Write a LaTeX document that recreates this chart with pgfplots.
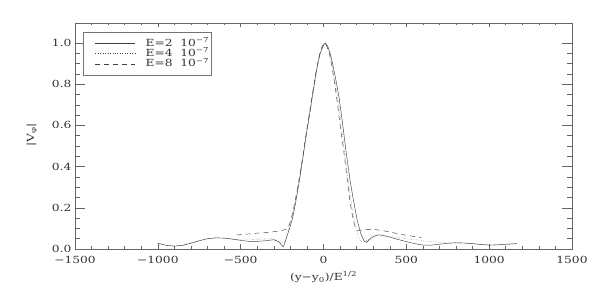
\documentclass[border=0pt]{standalone}
\usepackage{fontspec}
\setmainfont{DejaVu Serif}[FakeStretch=1.25]
\usepackage{pgfplots}
\pgfplotsset{compat=1.18}
\newcommand{\fsz}{\fontsize{9.8}{11}\selectfont}
\begin{document}
\begin{tikzpicture}[x=1pt,y=1pt]
\useasboundingbox (0,0) rectangle (595,297);
\begin{axis}[
  at={(75pt,48pt)}, anchor=south west,
  scale only axis, width=497pt, height=226pt,
  xmin=-1500, xmax=1500, ymin=0, ymax=1.097,
  axis line style={black!60, line width=0.5pt},
  every tick/.style={black!60, line width=0.5pt},
  tick align=inside,
  xtick={-1500,-1000,-500,0,500,1000,1500},
  xticklabels={−1500,−1000,−500,0,500,1000,1500},
  ytick={0,0.2,0.4,0.6,0.8,1.0},
  yticklabels={0.0,0.2,0.4,0.6,0.8,1.0},
  minor x tick num=4, minor y tick num=3,
  major tick length=10pt, minor tick length=5pt,
  x tick style={/pgfplots/major tick length=4.5pt, /pgfplots/minor tick length=2.5pt},
  tick label style={font=\fsz, black!80},
  xticklabel style={yshift=-4pt},
  xlabel={(y−y\textsubscript{0})/E\textsuperscript{1/2}},
  xlabel style={at={(axis description cs:0.5,-0.125)}, anchor=center, font=\fsz, black!80},
  ylabel={|V\textsubscript{φ}|},
  ylabel style={at={(axis description cs:-0.087,0.505)}, anchor=center, rotate=0, font=\fsz, black!80},
  legend style={at={(axis description cs:0.016,0.960)}, anchor=north west,
    draw=black!55, line width=0.4pt, font=\fsz, text=black!80,
    inner xsep=2pt, inner ysep=6pt, row sep=0pt,
    nodes={inner xsep=0pt, inner ysep=0.4pt, text height=7.5pt, text depth=2pt},
    /tikz/every odd column/.append style={column sep=10pt}},
  legend cell align=left,
  legend image code/.code={\path (0pt,0pt); \draw[#1] (10pt,0pt) -- (50pt,0pt);},
]
\addplot[black!75, line width=0.45pt] coordinates {
(-1000,0.028) (-950,0.018) (-900,0.014) (-850,0.018) (-800,0.028) (-750,0.040)
(-700,0.050) (-650,0.054) (-600,0.053) (-550,0.048) (-500,0.042) (-450,0.037)
(-400,0.037) (-350,0.040) (-300,0.045) (-270,0.035) (-243,0.010) (-225,0.050)
(-205,0.100) (-185,0.155) (-165,0.240) (-145,0.335) (-125,0.44) (-105,0.55)
(-85,0.65) (-70,0.73) (-50,0.83) (-35,0.90) (-20,0.95) (0,0.99) (10,1.0)
(25,0.985) (40,0.95) (55,0.90) (75,0.82) (95,0.73) (115,0.61) (135,0.48)
(160,0.335) (180,0.24) (204,0.138) (225,0.075) (245,0.038) (260,0.032)
(280,0.048) (300,0.060) (330,0.069) (360,0.066) (400,0.058) (450,0.046)
(500,0.036) (550,0.026) (600,0.019) (650,0.019) (700,0.023) (750,0.028)
(800,0.030) (850,0.029) (900,0.026) (950,0.022) (1000,0.019) (1050,0.020)
(1100,0.023) (1166,0.026)
};
\addlegendentry{E=2\ \ 10\textsuperscript{−7}}
\addplot[black!75, line width=0.45pt, dotted] coordinates {
(-1000,0.028) (-950,0.018) (-900,0.014) (-850,0.018) (-800,0.028) (-750,0.040)
(-700,0.050) (-650,0.054) (-600,0.053) (-550,0.049) (-500,0.046) (-450,0.046)
(-400,0.047) (-350,0.049) (-310,0.050) (-280,0.042) (-255,0.026) (-235,0.040)
(-215,0.085) (-195,0.14) (-175,0.21) (-155,0.29) (-135,0.385) (-115,0.49)
(-95,0.59) (-75,0.69) (-55,0.79) (-35,0.89) (-20,0.95) (0,0.99) (8,1.0)
(25,0.98) (40,0.94) (55,0.88) (75,0.79) (95,0.68) (115,0.55) (130,0.45)
(150,0.33) (170,0.21) (190,0.12) (210,0.060) (230,0.034) (250,0.036)
(280,0.052) (310,0.062) (340,0.065) (400,0.060) (450,0.055) (500,0.050)
(550,0.045) (600,0.040) (650,0.036) (700,0.033) (750,0.030) (800,0.030)
(850,0.029) (900,0.026) (950,0.022) (1000,0.019) (1050,0.020) (1100,0.023) (1166,0.026)
};
\addlegendentry{E=4\ \ 10\textsuperscript{−7}}
\addplot[black!75, line width=0.45pt, dash pattern=on 5pt off 4pt] coordinates {
(-524,0.068) (-450,0.073) (-400,0.077) (-350,0.080) (-300,0.084) (-260,0.088)
(-222,0.097) (-205,0.12) (-185,0.18) (-165,0.26) (-145,0.35) (-125,0.45)
(-105,0.56) (-85,0.66) (-65,0.76) (-45,0.86) (-25,0.94) (-10,0.98) (5,1.0)
(20,0.985) (35,0.95) (50,0.89) (70,0.79) (90,0.67) (105,0.57) (120,0.49)
(144,0.333) (160,0.23) (180,0.138) (195,0.098) (205,0.090) (230,0.092)
(260,0.095) (300,0.096) (350,0.090) (400,0.083) (460,0.072) (520,0.064) (590,0.056)
};
\addlegendentry{E=8\ \ 10\textsuperscript{−7}}
\end{axis}
\end{tikzpicture}
\end{document}
